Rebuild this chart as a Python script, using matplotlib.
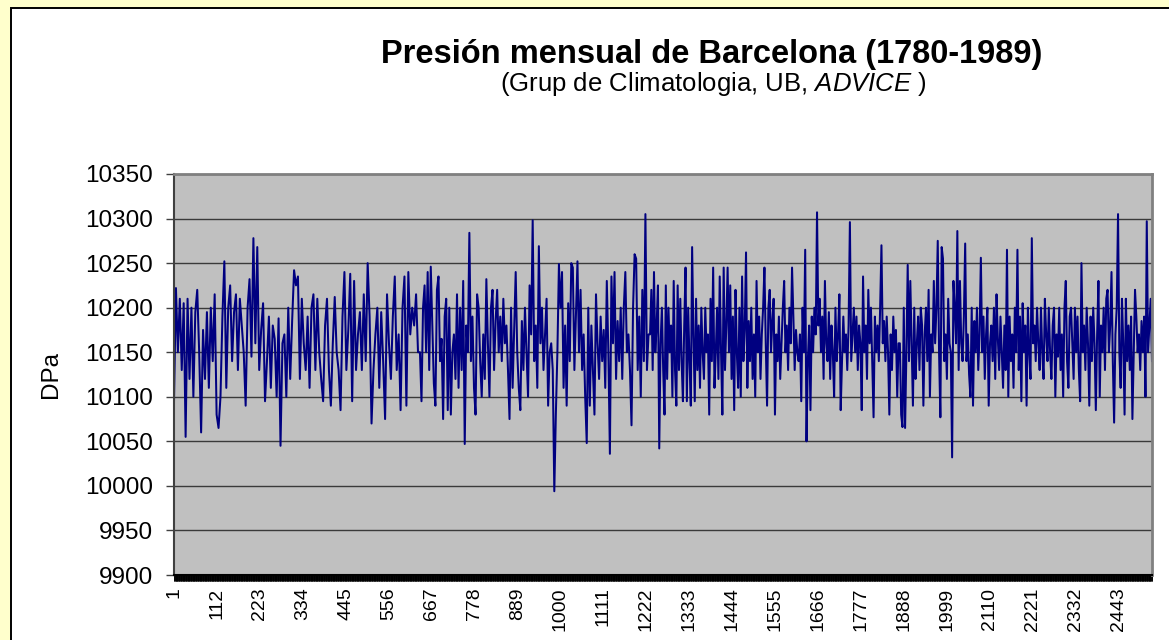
import numpy as np
import matplotlib
matplotlib.use("Agg")
import matplotlib.pyplot as plt
from matplotlib.patches import Rectangle
from matplotlib.ticker import FixedLocator

plt.rcParams['font.family'] = ['Liberation Sans', 'DejaVu Sans']
plt.rcParams['mathtext.fontset'] = 'custom'
plt.rcParams['mathtext.rm'] = 'Liberation Sans'
plt.rcParams['mathtext.it'] = 'Liberation Sans:italic'

title = 'Presión mensual de Barcelona (1780-1989)'
ylabel = 'DPa'
x_tick_labels = [1, 112, 223, 334, 445, 556, 667, 778, 889, 1000, 1111, 1222,
                 1333, 1444, 1555, 1666, 1777, 1888, 1999, 2110, 2221, 2332, 2443]
n_months = 2530
# month where each block of readings starts / ends
seg_months = [1, 637, 1232, 1878, 2530]

# monthly pressure (DPa)
seg_a = [10095, 10222, 10150, 10210, 10130, 10205, 10055, 10210, 10120, 10200, 10100, 10195,
         10220, 10150, 10060, 10175, 10120, 10195, 10110, 10200, 10140, 10215, 10080, 10065,
         10100, 10190, 10252, 10110, 10200, 10225, 10140, 10195, 10215, 10130, 10210, 10180,
         10150, 10090, 10200, 10232, 10145, 10278, 10160, 10268, 10130, 10175, 10205, 10095,
         10140, 10190, 10110, 10180, 10165, 10100, 10188, 10045, 10160, 10170, 10100, 10200,
         10120, 10185, 10242, 10225, 10235, 10120, 10210, 10160, 10130, 10190, 10110, 10200,
         10215, 10130, 10210, 10150, 10120, 10095, 10180, 10210, 10130, 10090, 10160, 10212,
         10150, 10130, 10085, 10190, 10240, 10130, 10175, 10238, 10095, 10230, 10130, 10170,
         10195, 10130, 10215, 10140, 10250, 10190, 10070, 10130, 10170, 10200, 10110, 10195,
         10140, 10075, 10215, 10160, 10120, 10190, 10235, 10130, 10170, 10085, 10200, 10235,
         10090, 10240, 10170, 10200, 10180, 10215, 10150]
seg_b = [10150, 10095, 10200, 10225, 10150, 10240, 10130, 10246, 10180, 10115, 10090, 10220,
         10235, 10140, 10165, 10075, 10190, 10210, 10085, 10200, 10080, 10150, 10170, 10120,
         10215, 10110, 10200, 10130, 10230, 10047, 10180, 10150, 10284, 10140, 10190, 10110,
         10080, 10215, 10200, 10140, 10100, 10170, 10120, 10232, 10160, 10100, 10200, 10220,
         10130, 10185, 10220, 10150, 10190, 10140, 10210, 10160, 10180, 10130, 10075, 10200,
         10110, 10175, 10240, 10150, 10110, 10085, 10185, 10130, 10200, 10150, 10100, 10225,
         10170, 10298, 10140, 10180, 10110, 10269, 10160, 10200, 10130, 10170, 10210, 10090,
         10150, 10160, 10130, 9994, 10080, 10150, 10249, 10200, 10240, 10110, 10180, 10090,
         10205, 10140, 10250, 10245, 10130, 10190, 10252, 10150, 10220, 10130, 10170, 10100,
         10048, 10200, 10090, 10180, 10130, 10080, 10215, 10160, 10120, 10190, 10140, 10175,
         10110, 10230, 10150, 10036, 10235, 10160, 10240, 10120, 10185, 10140, 10200, 10120,
         10200, 10240, 10150, 10170, 10130, 10068, 10200, 10260, 10255, 10130, 10190, 10100,
         10220, 10140, 10305, 10130, 10170]
seg_c = [10170, 10220, 10130, 10240, 10150, 10180, 10225, 10042, 10160, 10200, 10130, 10080,
         10225, 10120, 10200, 10150, 10180, 10100, 10230, 10130, 10090, 10225, 10130, 10210,
         10140, 10095, 10180, 10245, 10095, 10200, 10140, 10090, 10268, 10170, 10095, 10210,
         10130, 10180, 10110, 10200, 10150, 10120, 10200, 10150, 10170, 10080, 10210, 10140,
         10245, 10110, 10150, 10200, 10120, 10235, 10150, 10080, 10245, 10130, 10180, 10245,
         10150, 10225, 10120, 10190, 10085, 10220, 10150, 10110, 10200, 10100, 10235, 10140,
         10175, 10262, 10110, 10185, 10140, 10200, 10120, 10170, 10100, 10230, 10150, 10190,
         10120, 10170, 10200, 10245, 10160, 10090, 10200, 10220, 10150, 10185, 10210, 10080,
         10170, 10140, 10190, 10120, 10160, 10200, 10230, 10150, 10180, 10130, 10200, 10160,
         10245, 10190, 10130, 10175, 10150, 10140, 10170, 10095, 10200, 10150, 10265, 10050,
         10140, 10180, 10085, 10190, 10150, 10200, 10170, 10307, 10180, 10210, 10150, 10190,
         10120, 10230, 10160, 10140, 10195, 10120, 10180, 10150, 10100, 10200, 10140, 10170,
         10215, 10085, 10140, 10190, 10150, 10170, 10130, 10180, 10296, 10140, 10170, 10200,
         10150, 10190, 10130, 10180, 10160, 10085, 10235, 10150, 10180, 10120, 10220, 10160,
         10200, 10140, 10077, 10190, 10150, 10180, 10140, 10200, 10270, 10160, 10185, 10140,
         10190, 10150, 10080, 10170, 10130, 10190, 10150, 10175, 10100, 10160]
seg_d = [10160, 10080, 10066, 10200, 10065, 10150, 10248, 10140, 10230, 10160, 10090, 10200,
         10120, 10160, 10190, 10130, 10200, 10180, 10090, 10170, 10200, 10140, 10220, 10100,
         10170, 10150, 10230, 10160, 10200, 10275, 10150, 10077, 10268, 10255, 10140, 10170,
         10120, 10210, 10160, 10150, 10032, 10230, 10200, 10160, 10286, 10130, 10230, 10160,
         10140, 10190, 10272, 10140, 10170, 10125, 10100, 10200, 10090, 10185, 10150, 10200,
         10130, 10170, 10256, 10150, 10190, 10120, 10170, 10200, 10090, 10160, 10180, 10140,
         10200, 10120, 10215, 10165, 10130, 10190, 10150, 10110, 10180, 10130, 10265, 10100,
         10190, 10140, 10170, 10110, 10200, 10150, 10265, 10130, 10190, 10095, 10205, 10150,
         10180, 10090, 10200, 10150, 10120, 10278, 10160, 10180, 10140, 10200, 10160, 10130,
         10200, 10150, 10120, 10210, 10170, 10140, 10200, 10150, 10120, 10180, 10200, 10100,
         10170, 10145, 10200, 10130, 10170, 10100, 10200, 10230, 10140, 10110, 10190, 10200,
         10160, 10120, 10200, 10150, 10190, 10130, 10095, 10250, 10150, 10180, 10130, 10200,
         10160, 10090, 10190, 10140, 10200, 10160, 10085, 10170, 10230, 10100, 10180, 10150,
         10200, 10130, 10210, 10220, 10150, 10180, 10240, 10140, 10071, 10170, 10200, 10305,
         10150, 10110, 10210, 10160, 10080, 10210, 10140, 10180, 10130, 10190, 10075, 10150,
         10220, 10190, 10150, 10170, 10130, 10185, 10150, 10190, 10100, 10297, 10150, 10180,
         10210, 10140]

segments = [seg_a, seg_b, seg_c, seg_d]
months, pressure = [], []
for i, seg in enumerate(segments):
    last = i == len(segments) - 1
    months.append(np.linspace(seg_months[i], seg_months[i + 1], len(seg), endpoint=last))
    pressure.append(seg)
months = np.concatenate(months)
pressure = np.concatenate(pressure)

fig = plt.figure(figsize=(11.69, 6.40), dpi=100, facecolor='#FFFFCC')
# white chart area with its black frame, kept behind the axes
fig.patches.append(Rectangle((11 / 1169, -0.2), 1.2, 0.2 + 1 - 8 / 640,
                             transform=fig.transFigure, facecolor='white',
                             edgecolor='black', linewidth=1.4, zorder=-5))

ax = fig.add_axes([174 / 1169, 1 - 575 / 640, 978 / 1169, 401 / 640])
ax.set_zorder(2)
ax.set_facecolor('#C0C0C0')
ax.plot(months, pressure, color='#000080', linewidth=1.45)

ax.set_ylim(9900, 10350)
ax.set_yticks(np.arange(9900, 10351, 50))
ax.yaxis.grid(True, color='#3a3a3a', linewidth=1.0)
ax.set_axisbelow(True)
ax.tick_params(axis='y', length=6, width=1, color='#404040', pad=9, labelsize=17.5)

ax.set_xlim(1, n_months)
ax.xaxis.set_major_locator(FixedLocator(x_tick_labels))
ax.set_xticklabels([str(v) for v in x_tick_labels], rotation=90)
ax.xaxis.set_minor_locator(FixedLocator(np.arange(1, n_months + 1)))
ax.tick_params(axis='x', which='both', length=4, width=0.6, color='black',
               pad=5, labelsize=14)

for side in ['top', 'right']:
    ax.spines[side].set_color('#808080')
    ax.spines[side].set_linewidth(2)
ax.spines['left'].set_color('#404040')
ax.spines['left'].set_linewidth(1.5)
ax.spines['bottom'].set_color('black')
ax.spines['bottom'].set_linewidth(1.5)

ax.set_ylabel(ylabel, fontsize=17.5, labelpad=17)

fig.text(712 / 1169, 1 - 54 / 640, title, ha='center', va='center',
         fontsize=23.5, fontweight='bold', zorder=3)
fig.text(713 / 1169, 1 - 84 / 640, '(Grup de Climatologia, UB, $ADVICE$ )',
         ha='center', va='center', fontsize=18.5, zorder=3)

fig.savefig('out.png', dpi=100, facecolor=fig.get_facecolor())
